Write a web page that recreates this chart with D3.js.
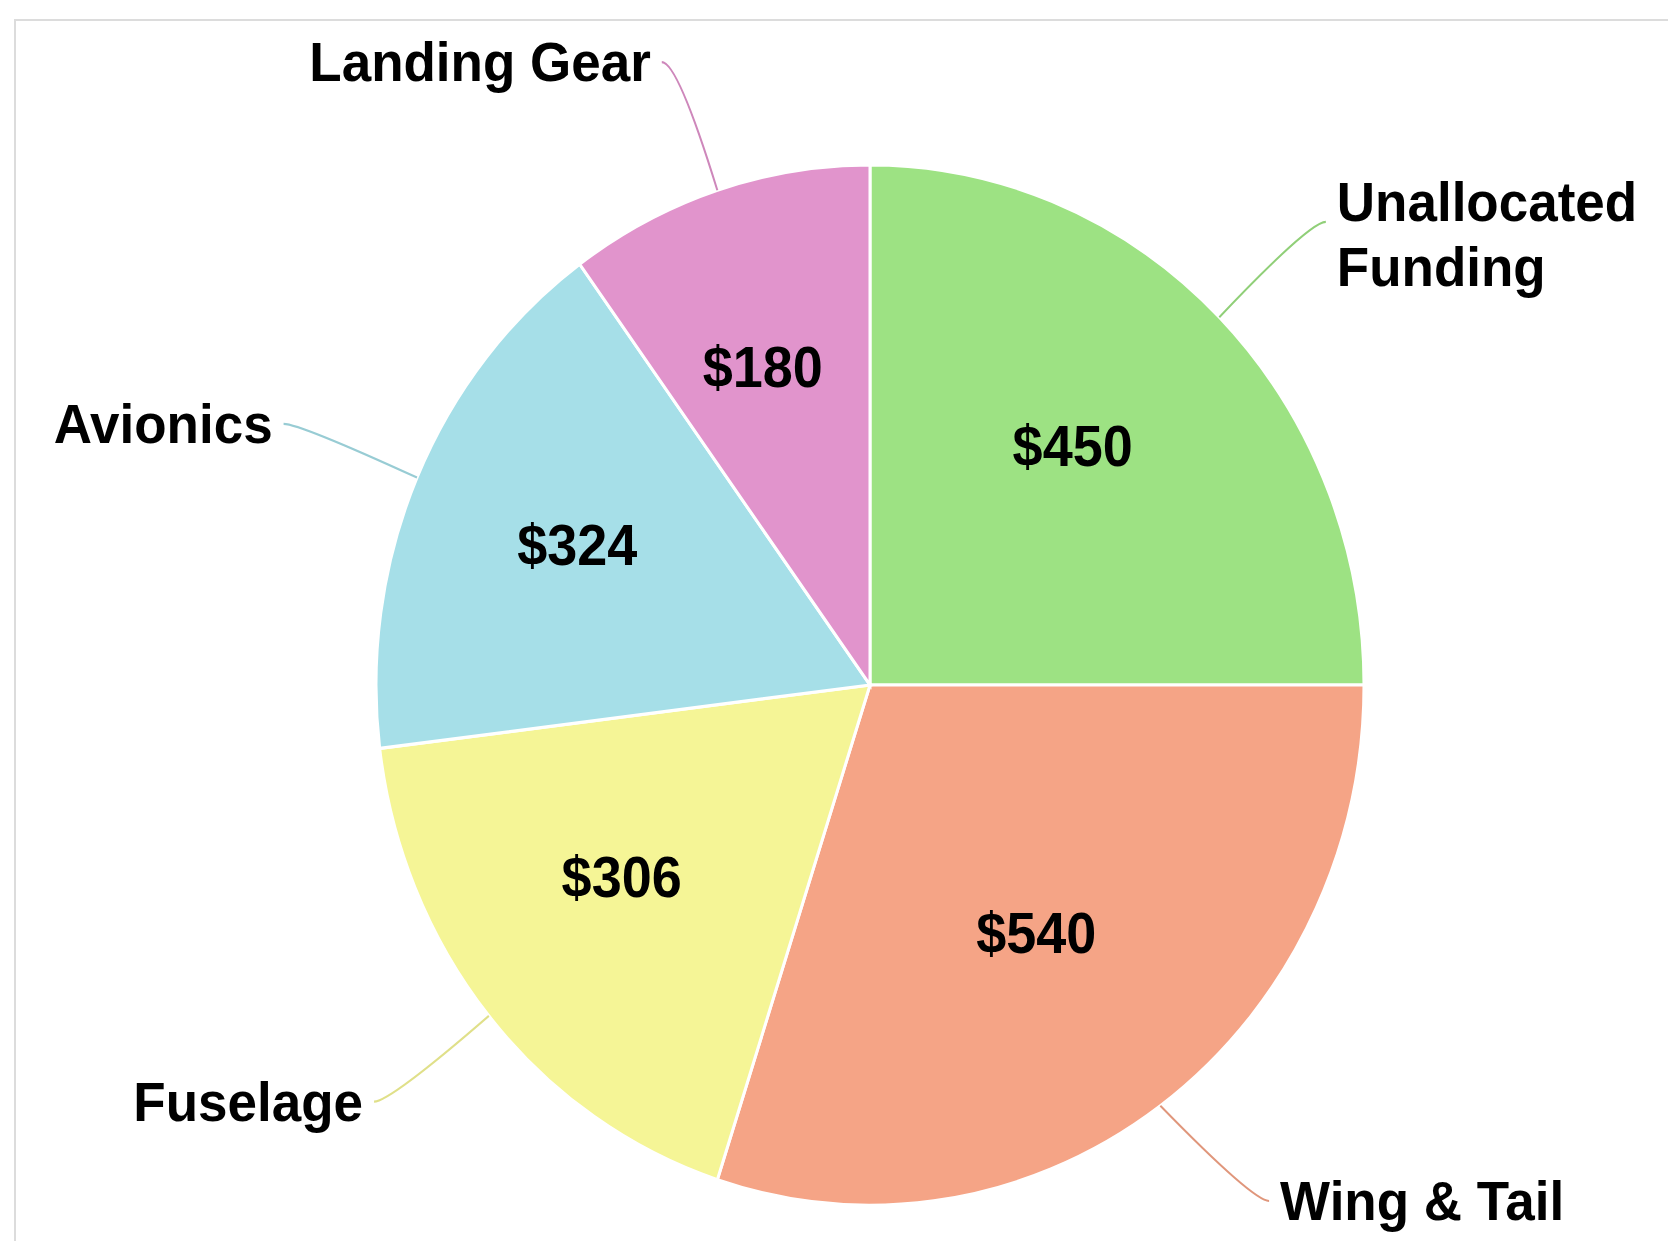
<!DOCTYPE html>
<html>
<head>
<meta charset="utf-8">
<script src="https://cdn.jsdelivr.net/npm/d3@7"></script>
<style>
  html, body { margin: 0; padding: 0; background: #fff; }
  svg { display: block; }
  text { font-family: "Liberation Sans", Arial, sans-serif; font-weight: bold; fill: #000; }
</style>
</head>
<body>
<div class="vis"></div>
<script>
const categories = ["Unallocated Funding", "Wing & Tail", "Fuselage", "Avionics", "Landing Gear"];
// slice sizes as drawn in the picture
const values = [450, 540, 325, 305, 180];
// amounts as printed on the slices
const amountLabels = ["$450", "$540", "$306", "$324", "$180"];
const colors = ["#9de283", "#f5a486", "#f5f596", "#a6dfe8", "#e194cc"];

const width = 1668, height = 1241;
const cx = 870, cy = 685;
const radius = 494;
const stretch = 1.053; // the picture is a touch taller than wide
const labelR = radius + 128;

const svg = d3.select(".vis").append("svg")
  .attr("width", width)
  .attr("height", height);

// card outline
svg.append("rect")
  .attr("x", 15).attr("y", 20)
  .attr("width", width).attr("height", height)
  .attr("fill", "#fff")
  .attr("stroke", "#dcdcdc")
  .attr("stroke-width", 2);

const g = svg.append("g")
  .attr("transform", "translate(" + cx + "," + cy + ") scale(1," + stretch + ")");

const data = categories.map((c, i) => ({ name: c, value: values[i], label: amountLabels[i], color: colors[i] }));

const pie = d3.pie().sort(null).value(d => d.value);
const arcs = pie(data);

const arc = d3.arc().innerRadius(0).outerRadius(radius);
const edgeArc = d3.arc().innerRadius(radius).outerRadius(radius);
const outArc = d3.arc().innerRadius(labelR).outerRadius(labelR);
const valueArc = d3.arc().innerRadius(305).outerRadius(305);

g.append("g")
  .selectAll("path")
  .data(arcs)
  .join("path")
  .attr("d", arc)
  .attr("fill", d => d.data.color)
  .attr("stroke", "#fff")
  .attr("stroke-width", 3);

const side = d => (Math.sin((d.startAngle + d.endAngle) / 2) >= 0 ? 1 : -1);

// label anchor: on the label circle, kept inside the bottom of the page
const maxY = (height - 40 - cy) / stretch;
const anchor = d => {
  const p = outArc.centroid(d);
  const y = Math.min(p[1], maxY);
  const x = side(d) * Math.sqrt(labelR * labelR - y * y);
  return [x, y];
};

// connectors
g.append("g")
  .selectAll("path")
  .data(arcs)
  .join("path")
  .attr("fill", "none")
  .attr("stroke", d => d3.color(d.data.color).darker(0.25))
  .attr("stroke-width", 2)
  .attr("d", d => {
    const p = anchor(d);
    const e = edgeArc.centroid(d);
    const s = [p[0] + side(d) * 16, p[1]];
    return "M" + s + "Q" + p + " " + e;
  });

// category labels
g.append("g")
  .selectAll("text")
  .data(arcs)
  .join("text")
  .attr("font-size", 53)
  .attr("text-anchor", d => (side(d) > 0 ? "start" : "end"))
  .each(function (d) {
    const p = anchor(d);
    const x = p[0] + side(d) * 27;
    const t = d3.select(this);
    t.text(d.data.name);
    const len = this.getComputedTextLength();
    let lines = [d.data.name];
    // wrap when the label would run off the page
    if (side(d) > 0 && cx + x + len > width - 20) lines = d.data.name.split(" ");
    t.text(null);
    const lh = 62;
    const first = 18 - (lines.length - 1) * 19;
    lines.forEach((l, i) => {
      t.append("tspan")
        .attr("x", x)
        .attr("y", p[1] + first + i * lh)
        .text(l);
    });
  });

// amount labels
g.append("g")
  .selectAll("text")
  .data(arcs)
  .join("text")
  .attr("font-size", 54)
  .attr("text-anchor", "middle")
  .attr("dy", "0.36em")
  .attr("x", d => valueArc.centroid(d)[0] - 13)
  .attr("y", d => valueArc.centroid(d)[1] - 12)
  .text(d => d.data.label);
</script>
</body>
</html>
